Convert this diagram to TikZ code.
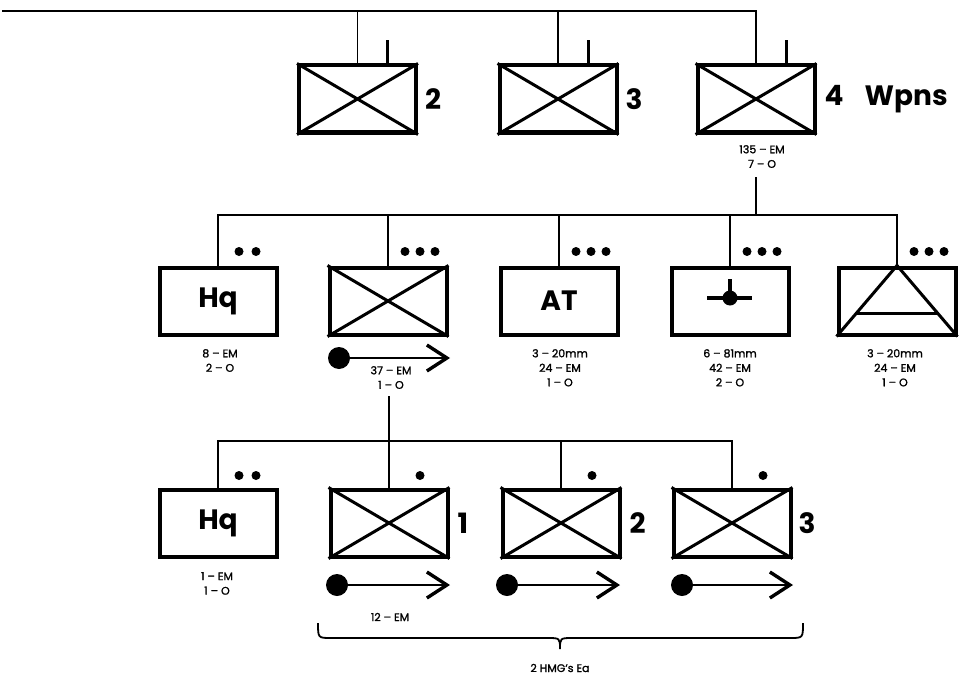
\documentclass[tikz,border=0pt]{standalone}
\usepackage{fontspec}
\setmainfont{Poppins}
\newfontfamily\medfont{Poppins}[FakeBold=1.4]
\usetikzlibrary{arrows.meta,calc}
\tikzset{
  unit/.style={draw, line width=4pt, minimum width=117pt, minimum height=67pt, inner sep=0pt},
  cross/.style={line width=3pt},
  conn/.style={line width=1.5pt},
  tick/.style={line width=3pt},
  small/.style={font=\medfont\fontsize{11}{14.5}\selectfont, align=center, inner sep=0pt},
  big/.style={font=\fontsize{28}{30}\selectfont\bfseries, inner sep=0pt},
  dotm/.style={circle, fill, minimum size=9pt, inner sep=0pt},
  ball/.style={circle, fill, minimum size=22pt, inner sep=0pt},
  mgarrow/.style={line width=2.8pt, -{Straight Barb[length=20pt,width=26pt,line width=3.4pt]}}
}
\begin{document}
\begin{tikzpicture}[x=1pt,y=-1pt]
\useasboundingbox (0,0) rectangle (963,674);
% ---------- top row
\node[unit] (A) at (357.5,99) {};
\node[unit] (B) at (558,99) {};
\node[unit] (C) at (756,99) {};
\foreach \n in {A,B,C}{
  \draw[cross] (\n.north west) -- (\n.south east);
  \draw[cross] (\n.south west) -- (\n.north east);
  \draw[tick] ([xshift=30pt]\n.north) -- ([xshift=30pt,yshift=23pt]\n.north);
}
\node[big, anchor=west] (An) at ([xshift=7pt]A.east) {2};
\node[big, anchor=west] (Bn) at ([xshift=7pt]B.east) {3};
\node[big, anchor=west] (Cn) at ([xshift=8pt]C.east) {4\hspace{0.75em}Wpns};
\coordinate (lt) at (2,11);
\coordinate (lt2) at (63,11);
\draw[line width=2.8pt] (lt) -- (lt2);
\draw[conn] (lt) -| (C.north);
\draw[conn] (A.north) -- (A.north |- lt);
\draw[conn] (B.north) -- (B.north |- lt);
\node[small, anchor=north] (lC) at (762,145) {135 – EM\\7 – O};
% ---------- second row
\node[unit] (Hq) at (218,301) {};
\node[big] at (Hq.center) {Hq};
\node[unit] (MG) at (388,301) {};
\draw[cross] (MG.north west) -- (MG.south east);
\draw[cross] (MG.south west) -- (MG.north east);
\node[unit] (AT) at (559,301) {};
\node[big] at (AT.center) {AT};
\node[unit] (Mo) at (730,301) {};
\node[unit] (AA) at (897,301) {};
% mortar symbol
\draw[line width=3.4pt] (707,298) -- (752,298);
\draw[line width=3.4pt] (730,279) -- (730,298);
\fill (730,298) circle (7.5pt);
% AA symbol
\draw[cross] (AA.south west) -- (AA.north) -- (AA.south east);
\draw[cross] ($(AA.north)!0.67!(AA.south west)$) -- ($(AA.north)!0.67!(AA.south east)$);
% bus 2
\coordinate (b2) at (756,215);
\draw[conn] ([yshift=-9pt]b2 |- lC.south) -- (b2);
\draw[conn] (Hq.north) |- (AA.north |- b2) -- (AA.north);
\foreach \n in {MG,AT,Mo}{ \draw[conn] (\n.north) -- (\n.north |- b2); }
% dots
\node[dotm] (hqa) at ([shift={(21,-14)}]Hq.north) {};
\node[dotm] (hqb) at ([shift={(38,-14)}]Hq.north) {};
\foreach \n in {MG,AT,Mo,AA}{
  \node[dotm] (\n a) at ([shift={(17,-14)}]\n.north) {};
  \node[dotm] (\n b) at ([shift={(32,-14)}]\n.north) {};
  \node[dotm] (\n c) at ([shift={(47,-14)}]\n.north) {};
}
% labels row 2
\node[small, anchor=north] (lHq) at (220,349) {8 – EM\\2 – O};
\node[small, anchor=north] (lAT) at (560,349) {3 – 20mm\\24 – EM\\1 – O};
\node[small, anchor=north] (lMo) at (730,349) {6 – 81mm\\42 – EM\\2 – O};
\node[small, anchor=north] (lAA) at (895,349) {3 – 20mm\\24 – EM\\1 – O};
% MG arrow
\node[ball] (MGball) at (339,358) {};
\coordinate (MGtip) at (450,358);
\draw[mgarrow] (MGball.center) -- (MGtip);
\node[small, anchor=north] (lMG) at (391,366) {37 – EM\\1 – O};
% ---------- third row
\node[unit] (Hq3) at (218,523) {};
\node[big] at (Hq3.center) {Hq};
\node[unit] (S1) at (389,523) {};
\node[unit] (S2) at (561,523) {};
\node[unit] (S3) at (732,523) {};
\foreach \n in {S1,S2,S3}{
  \draw[cross] (\n.north west) -- (\n.south east);
  \draw[cross] (\n.south west) -- (\n.north east);
  \node[dotm] (\n d) at ([shift={(31,-12)}]\n.north) {};
}
\node[dotm] (hq3a) at ([shift={(21,-12)}]Hq3.north) {};
\node[dotm] (hq3b) at ([shift={(38,-12)}]Hq3.north) {};
\node[big, anchor=west] (S1n) at ([xshift=8pt]S1.east) {1};
\node[big, anchor=west] (S2n) at ([xshift=8pt]S2.east) {2};
\node[big, anchor=west] (S3n) at ([xshift=6pt]S3.east) {3};
\coordinate (b3) at (389,441);
\draw[conn] ([yshift=-7pt]b3 |- lMG.south) -- (b3);
\draw[conn] (Hq3.north) |- (S3.north |- b3) -- (S3.north);
\draw[conn] (S1.north) -- (S1.north |- b3);
\draw[conn] (S2.north) -- (S2.north |- b3);
\node[small, anchor=north] (lHq3) at (217,572) {1 – EM\\1 – O};
% section arrows
\node[ball] (ba1) at (337,585) {};
\node[ball] (ba2) at (507,585) {};
\node[ball] (ba3) at (682,585) {};
\coordinate (tp1) at (450,585);
\coordinate (tp2) at (620,585);
\coordinate (tp3) at (793,585);
\draw[mgarrow] (ba1.center) -- (tp1);
\draw[mgarrow] (ba2.center) -- (tp2);
\draw[mgarrow] (ba3.center) -- (tp3);
\node[small] (l12) at (390,617) {12 – EM};
% brace
\draw[line width=1.8pt] (318,623) .. controls (318,638) .. (331,638) -- (547,638)
  .. controls (560,638) .. (560,649) .. controls (560,638) .. (573,638) -- (790,638)
  .. controls (803,638) .. (803,623);
\node[small] (lHMG) at (560,668) {2 HMG’s Ea};
\end{tikzpicture}
\end{document}
